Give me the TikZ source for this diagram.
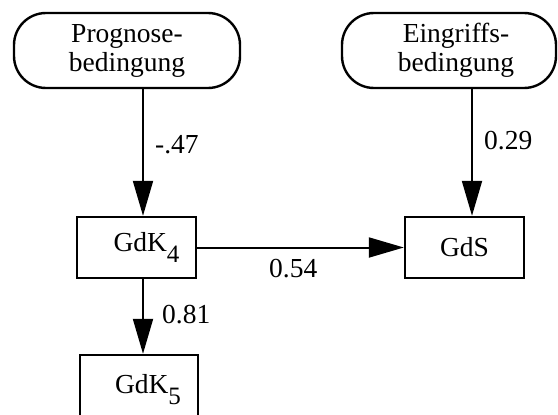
\documentclass[tikz,border=0pt]{standalone}
\usepackage{fontspec}
\setmainfont{Liberation Serif}
\usetikzlibrary{arrows.meta}
\newcommand{\sbx}[1]{\raisebox{-11pt}{\fontsize{25}{25}\selectfont #1}}
\begin{document}
\begin{tikzpicture}[x=1pt,y=-1pt,
  every node/.style={font=\fontsize{27.5}{29}\selectfont, inner sep=0pt},
  cond/.style={draw, line width=2.4pt, rounded corners=32pt, align=center, minimum height=75pt},
  var/.style={draw, line width=2.4pt, minimum width=119pt, minimum height=61pt},
  arr/.style={line width=2pt, -{Triangle[length=35pt,width=20pt]}},
  lab/.style={anchor=base west}]
\useasboundingbox (0,0) rectangle (558,415);
\clip (0,0) rectangle (558,415);
\node[cond, minimum width=226pt] (prog) at (127,50.5) {Prognose-\\bedingung};
\node[cond, minimum width=214pt] (ein) at (449,50.5) {\hspace*{14pt}Eingriffs-\\\hspace*{14pt}bedingung};
\node[var] (gdk4) at (136.5,247.5) {\hspace*{20pt}GdK\sbx{4}};
\node[var] (gds) at (464.5,247.5) {GdS};
\node[var, minimum width=118pt, minimum height=70pt] (gdk5) at (139,390) {\hspace*{18pt}GdK\sbx{5}};
\coordinate (ax) at (143,0);
\coordinate (bx) at (472,0);
\draw[arr] (prog.south -| ax) -- (gdk4.north -| ax);
\draw[arr] (ein.south -| bx) -- (gds.north -| bx);
\draw[arr] (gdk4.south -| ax) -- (gdk5.north -| ax);
\draw[arr] (gdk4.east) -- (gds.west);
\node[lab] (l1) at (155,153) {-.47};
\node[lab] (l2) at (484,149) {0.29};
\node[lab] (l3) at (162,323) {0.81};
\node[lab] (l4) at (269,277) {0.54};
\end{tikzpicture}
\end{document}
